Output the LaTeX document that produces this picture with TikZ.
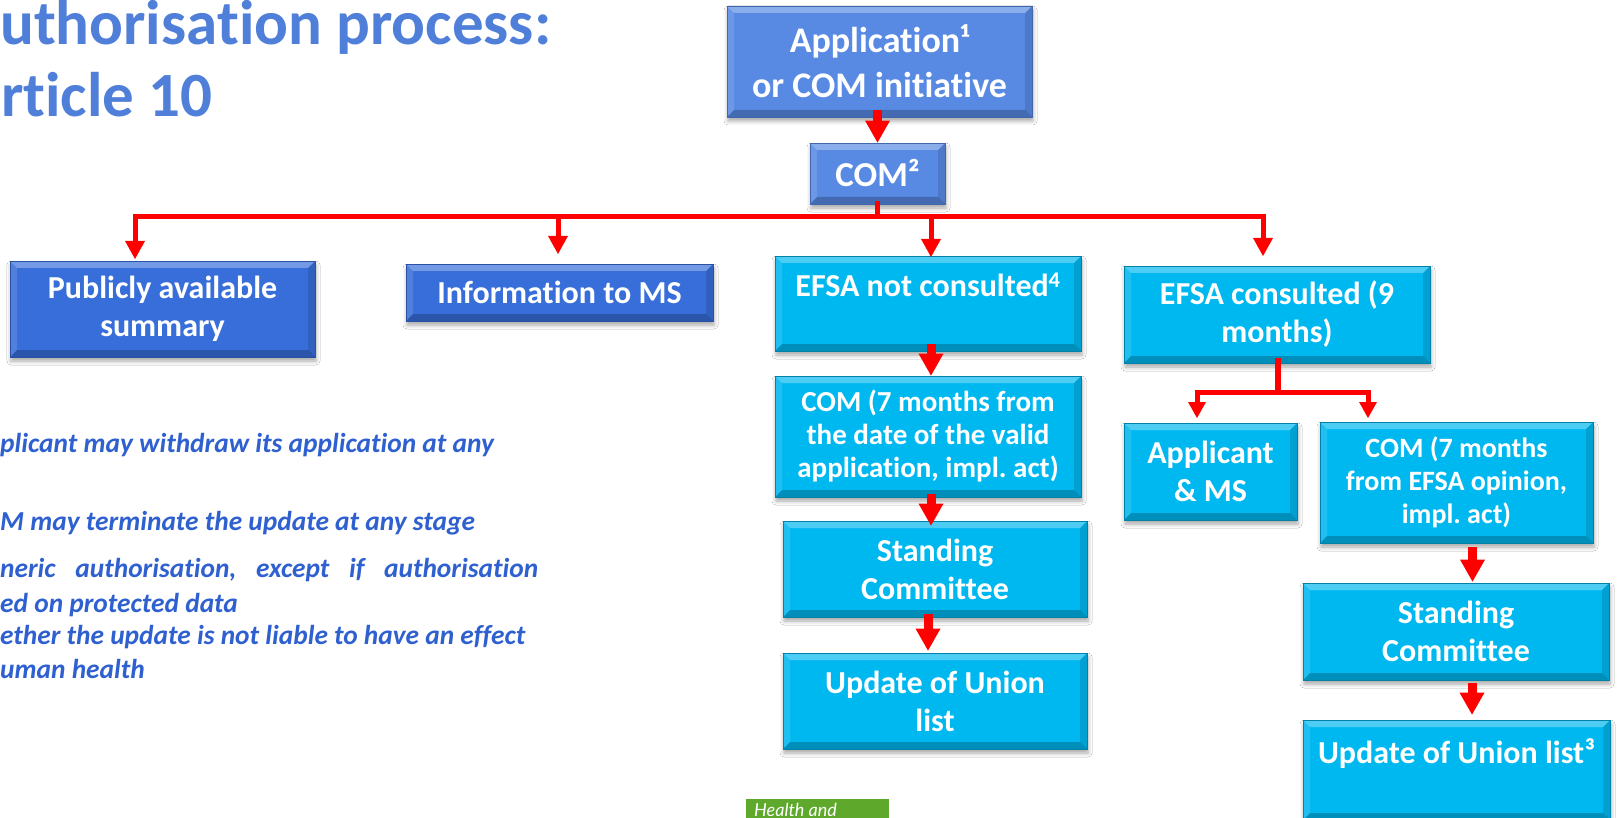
\documentclass[tikz,border=0pt]{standalone}
\usepackage{fontspec}
\setmainfont{Carlito}[Ligatures=NoCommon]
\newfontfamily\hfont{Lato}
\usetikzlibrary{arrows.meta,shadows.blur}
\definecolor{appblue}{RGB}{88,138,228}
\definecolor{darkblue}{RGB}{56,110,218}
\definecolor{cyanbox}{RGB}{0,184,240}
\definecolor{titleblue}{RGB}{79,127,217}
\definecolor{noteblue}{RGB}{47,96,208}
\definecolor{eugreen}{RGB}{94,169,43}
\frenchspacing
\begin{document}
\begin{tikzpicture}[x=1pt,y=-1pt,
  bevel/.style={path picture={
    \coordinate (bNW) at (path picture bounding box.north west);
    \coordinate (bNE) at (path picture bounding box.north east);
    \coordinate (bSW) at (path picture bounding box.south west);
    \coordinate (bSE) at (path picture bounding box.south east);
    \fill[white,opacity=.30] (bNW) -- (bNE) -- ([xshift=-7pt,yshift=-7pt]bNE) -- ([xshift=7pt,yshift=-7pt]bNW) -- cycle;
    \fill[white,opacity=.12] (bNW) -- (bSW) -- ([xshift=7pt,yshift=7pt]bSW) -- ([xshift=7pt,yshift=-7pt]bNW) -- cycle;
    \fill[black,opacity=.12] (bNE) -- (bSE) -- ([xshift=-7pt,yshift=7pt]bSE) -- ([xshift=-7pt,yshift=-7pt]bNE) -- cycle;
    \fill[black,opacity=.22] (bSW) -- (bSE) -- ([xshift=-7pt,yshift=7pt]bSE) -- ([xshift=7pt,yshift=7pt]bSW) -- cycle;
  }},
  flowbox/.style={bevel, rectangle, inner sep=0pt, text=white, align=center,
    font=\bfseries\fontsize{32}{38}\selectfont,
    blur shadow={shadow xshift=1pt, shadow yshift=-4pt, shadow blur radius=4pt, shadow opacity=35}},
  boxA/.style={flowbox, fill=appblue, draw=appblue!75!black, line width=0.8pt},
  boxB/.style={flowbox, fill=darkblue, draw=darkblue!75!black, line width=0.8pt},
  boxC/.style={flowbox, fill=cyanbox, draw=cyanbox!70!black, line width=0.8pt},
  smallfont/.style={font=\bfseries\fontsize{29}{33}\selectfont},
  titletxt/.style={anchor=base west, inner sep=0pt, text=titleblue, font=\bfseries\fontsize{63}{72}\selectfont},
  note/.style={anchor=base west, inner sep=0pt, text=noteblue, font=\bfseries\itshape\fontsize{27.4}{34}\selectfont},
  redline/.style={draw=red, line width=5pt},
  brarr/.style={redline, -{Triangle[width=20pt,length=18pt,line width=0pt]}},
  bigarr/.style={draw=red, line width=9pt, -{Triangle[width=25pt,length=22pt,line width=0pt]}}
]
\clip (0,0) rectangle (1624,818);
\fill[white] (0,0) rectangle (1624,818);

% title
\node[titletxt] (title1) at (0,45) {uthorisation process:};
\node[titletxt] (title2) at (1,117) {rticle 10};

% notes
\node[note] (n1) at (0,452) {plicant may withdraw its application at any};
\node[note] (n3) at (0,530) {M may terminate the update at any stage};
\node[note] (n4) at (0,577) {\makebox[538pt][s]{neric authorisation, except if authorisation}};
\node[note] (n5) at (0,612) {ed on protected data};
\node[note] (n6) at (0,644) {ether the update is not liable to have an effect};
\node[note] (n7) at (0,678) {uman health};

% boxes
\node[boxA, minimum width=305pt, minimum height=111pt, font=\bfseries\fontsize{36}{45}\selectfont] (app) at (879.5,61.5) {Application¹\\or COM initiative};
\node[boxA, minimum width=135pt, minimum height=61pt, font=\bfseries\fontsize{35}{42}\selectfont] (com) at (877.5,173.5) {COM²};
\node[boxB, minimum width=305pt, minimum height=96pt] (pub) at (162.5,309) {Publicly available\\summary};
\node[boxB, minimum width=307pt, minimum height=57pt] (info) at (559.5,292.5) {Information to MS};
\node[boxC, minimum width=306pt, minimum height=95pt] (efn) at (928,303.5) {EFSA not consulted\textsuperscript{4}\\\mbox{}};
\node[boxC, smallfont, minimum width=306pt, minimum height=121pt] (comL) at (928,436.5) {COM (7 months from\\the date of the valid\\application, impl. act)};
\node[boxC, minimum width=304pt, minimum height=96pt] (stL) at (935,569) {Standing\\Committee};
\node[boxC, minimum width=304pt, minimum height=96pt] (updL) at (935,701) {Update of Union\\list};
\node[boxC, minimum width=306pt, minimum height=97pt] (efc) at (1277,314.5) {EFSA consulted (9\\months)};
\node[boxC, minimum width=173pt, minimum height=97pt] (appms) at (1210.5,471.5) {Applicant\\\& MS};
\node[boxC, font=\bfseries\fontsize{28}{33}\selectfont, minimum width=273pt, minimum height=121pt] (comR) at (1456.5,482.5) {COM (7 months\\from EFSA opinion,\\impl. act)};
\node[boxC, minimum width=306pt, minimum height=97pt] (stR) at (1456,631.5) {Standing\\Committee};
\node[boxC, minimum width=307pt, minimum height=100pt] (updR) at (1456.5,770) {Update of Union list³\\\mbox{}};

% green footer tab
\node[fill=eugreen, minimum width=143pt, minimum height=30pt, inner sep=0pt, anchor=north west] (hbox) at (746,799) {};
\node[anchor=base west, inner sep=0pt, text=white, font=\hfont\itshape\fontsize{18}{21}\selectfont] (htxt) at (754,816) {Health and};

% connectors
\coordinate (J) at (877,217);
\coordinate (hL) at (135,217);
\coordinate (hR) at (1263,217);
\coordinate (tipPub) at (135,259);
\coordinate (tipEfc) at (1263,256);
\coordinate (brInfo) at (558,217);
\coordinate (tipInfo) at (558,254);
\coordinate (brEfn) at (931,217);
\coordinate (tipEfn) at (931,257);

\draw[bigarr] ([yshift=7pt]com.north |- app.south) -- (com.north);
\draw[redline] ([yshift=3pt]com.south) -- (com.south |- J);
\draw[redline, line join=miter, {Triangle[width=20pt,length=18pt,line width=0pt]}-{Triangle[width=20pt,length=18pt,line width=0pt]}] (tipPub) -- (hL) -- (hR) -- (tipEfc);
\draw[brarr] (brInfo) -- (tipInfo);
\draw[brarr] (brEfn) -- (tipEfn);

\draw[bigarr] ([xshift=3pt,yshift=7pt]efn.south) -- ([xshift=3pt]efn.south |- comL.north);
\draw[bigarr] ([xshift=3pt,yshift=3pt]comL.south) -- ([xshift=3pt,yshift=-5pt]comL.south |- stL.north);
\draw[bigarr] ([xshift=-7pt,yshift=3pt]stL.south) -- ([xshift=-7pt,yshift=2pt]stL.south |- updL.north);

\coordinate (S) at (1278,392);
\coordinate (sL) at (1197,392);
\coordinate (sR) at (1368,392);
\coordinate (tAp) at (1197,418);
\coordinate (tCr) at (1368,418);
\draw[redline, line width=6pt] ([xshift=1pt,yshift=5pt]efc.south) -- ([xshift=1pt]efc.south |- S);
\draw[redline, line join=miter, {Triangle[width=18pt,length=16pt,line width=0pt]}-{Triangle[width=18pt,length=16pt,line width=0pt]}] (tAp) -- (sL) -- (sR) -- (tCr);

\draw[bigarr] ([xshift=16pt,yshift=-4pt]comR.south) -- ([xshift=16pt,yshift=1pt]comR.south |- stR.north);
\draw[bigarr] ([xshift=16pt,yshift=-3pt]stR.south) -- ([xshift=16pt,yshift=5pt]stR.south |- updR.north);
\end{tikzpicture}
\end{document}
